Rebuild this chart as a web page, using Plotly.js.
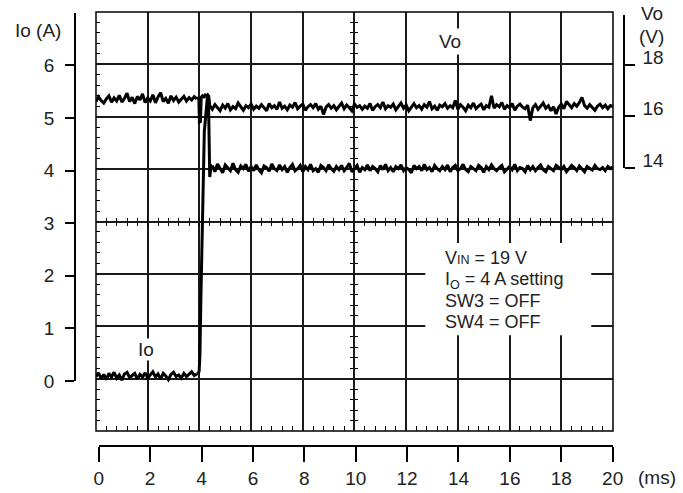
<!DOCTYPE html>
<html>
<head>
<meta charset="utf-8">
<script src="https://cdn.plot.ly/plotly-3.0.1.min.js"></script>
<style>html,body{margin:0;padding:0;background:#fff}#chart{width:683px;height:493px}</style>
</head>
<body>
<div id="chart"></div>
<script>
// ---- data ----
// time step of sampled segments, ms
const sampleStep = 0.1;

// Io (A): before the load step, sampled from t = 0 ms
const ioPre = [
  0.04, 0.11, 0.00, 0.08, -0.02, 0.10, 0.03, 0.12, 0.01, 0.07,
  -0.03, 0.09, 0.12, 0.02, 0.06, 0.10, -0.01, 0.08, 0.03, 0.11,
  0.01, 0.07, 0.13, 0.03, 0.09, -0.01, 0.10, 0.05, -0.02, 0.08,
  0.12, 0.04, 0.07, 0.01, 0.10, 0.04, 0.09, 0.13, 0.06, 0.09
];
// Io (A): step transient
const ioStepT = [3.9, 3.95, 3.99, 4.02, 4.06, 4.12, 4.19, 4.31, 4.35, 4.40, 4.45, 4.5];
const ioStepV = [0.09, 0.10, 0.14, 0.45, 1.6, 3.4, 4.71, 5.38, 5.36, 3.85, 4.06, 4.07];
// Io (A): after the step, sampled from t = 4.5 ms to 20 ms
const ioPost = [
  4.07, 3.95, 4.10, 4.01, 3.93, 4.08, 4.03, 3.97, 4.11, 3.99,
  3.94, 4.06, 4.01, 4.09, 3.96, 4.05, 3.97, 4.08, 3.99, 3.93,
  4.06, 4.03, 3.96, 4.10, 4.01, 3.97, 4.08, 3.99, 4.05, 3.94,
  4.03, 4.09, 3.97, 4.01, 4.07, 3.95, 4.05, 3.99, 4.09, 3.97,
  4.01, 3.94, 4.07, 4.03, 3.97, 4.08, 4.01, 3.96, 4.05, 3.99,
  4.07, 3.97, 4.03, 4.11, 3.95, 4.01, 4.07, 3.94, 4.03, 3.99,
  4.08, 3.97, 4.05, 4.01, 3.95, 4.07, 3.99, 4.09, 3.97, 4.03,
  3.95, 4.05, 4.01, 4.08, 3.97, 4.03, 3.99, 3.93, 4.07, 4.01,
  4.05, 3.97, 4.09, 3.99, 4.03, 3.95, 4.07, 4.01, 3.97, 4.05,
  3.99, 4.08, 3.95, 4.03, 4.07, 3.97, 4.01, 4.09, 3.99, 3.95,
  4.05, 4.01, 3.97, 4.07, 4.03, 3.94, 4.05, 3.99, 4.08, 4.01,
  3.97, 4.03, 4.07, 3.95, 4.01, 4.05, 3.99, 4.09, 3.97, 4.03,
  4.01, 3.95, 4.07, 3.99, 4.05, 3.97, 4.03, 4.08, 3.99, 3.95,
  4.05, 4.01, 3.97, 4.07, 4.03, 3.99, 4.05, 3.95, 4.01, 4.07,
  4.03, 3.97, 4.06, 4.00, 3.95, 4.05, 4.02, 3.98, 4.07, 4.01,
  3.99, 4.03, 3.97, 4.05, 4.01, 4.04
];

// Vo (V): before the load step, sampled from t = 0 ms
const voPre = [
  16.58, 16.76, 16.62, 16.52, 16.68, 16.80, 16.55, 16.72, 16.60, 16.82,
  16.56, 16.70, 16.90, 16.58, 16.74, 16.50, 16.78, 16.64, 16.88, 16.54,
  16.72, 16.60, 16.84, 16.53, 16.76, 16.92, 16.58, 16.70, 16.51, 16.80,
  16.62, 16.75, 16.56, 16.68, 16.78, 16.60, 16.73, 16.64, 16.77, 16.68
];
// Vo (V): step transient
const voStepT = [3.9, 3.95, 3.98, 4.0, 4.04, 4.07, 4.12, 4.17, 4.22, 4.27, 4.32, 4.36, 4.4];
const voStepV = [16.68, 16.71, 16.68, 15.78, 15.80, 16.74, 16.80, 16.76, 16.83, 16.78, 16.84, 16.79, 16.42];
// Vo (V): after the step, sampled from t = 4.4 ms to 20 ms
const voPost = [
  16.42, 16.28, 16.46, 16.34, 16.22, 16.44, 16.32, 16.50, 16.26, 16.38,
  16.30, 16.52, 16.36, 16.24, 16.42, 16.34, 16.48, 16.28, 16.40, 16.32,
  16.46, 16.36, 16.22, 16.50, 16.34, 16.42, 16.28, 16.56, 16.32, 16.40,
  16.26, 16.44, 16.36, 16.54, 16.30, 16.40, 16.48, 16.24, 16.38, 16.46,
  16.34, 16.50, 16.28, 16.40, 16.08, 16.36, 16.46, 16.32, 16.42, 16.26,
  16.38, 16.52, 16.30, 16.44, 16.34, 16.22, 16.48, 16.36, 16.42, 16.28,
  16.40, 16.32, 16.50, 16.24, 16.38, 16.46, 16.34, 16.56, 16.30, 16.42,
  16.36, 16.48, 16.26, 16.40, 16.52, 16.32, 16.44, 16.22, 16.38, 16.50,
  16.34, 16.42, 16.28, 16.46, 16.36, 16.58, 16.30, 16.40, 16.24, 16.44,
  16.38, 16.50, 16.32, 16.42, 16.34, 16.62, 16.28, 16.46, 16.36, 16.22,
  16.44, 16.34, 16.52, 16.30, 16.40, 16.48, 16.26, 16.42, 16.36, 16.80,
  16.32, 16.46, 16.38, 16.54, 16.28, 16.42, 16.34, 16.50, 16.24, 16.40,
  16.48, 16.36, 16.30, 16.44, 15.84, 16.34, 16.46, 16.28, 16.40, 16.52,
  16.32, 16.42, 16.22, 16.38, 16.10, 16.36, 16.48, 16.30, 16.58, 16.44,
  16.34, 16.50, 16.40, 16.54, 16.74, 16.42, 16.32, 16.46, 16.36, 16.24,
  16.40, 16.48, 16.34, 16.44, 16.30, 16.42, 16.38
];

// axis tick labels
const timeTicks = [0, 2, 4, 6, 8, 10, 12, 14, 16, 18, 20];
const ioTicks = [0, 1, 2, 3, 4, 5, 6];
const voTicks = [14, 16, 18];

// condition text
const condLines = [
  'V<span style="font-size:12.5px">IN</span> = 19 V',
  'I<sub>O</sub> = 4 A setting',
  'SW3 = OFF',
  'SW4 = OFF'
];

// ---- styling ----
const FONT = 'Liberation Sans, Arial, Helvetica, sans-serif';
const TXT = '#222';
const fs = 19;
const trLine = {color: '#000', width: 3};
const GRID = '#1a1a1a';
const X_DOM = [0.03825, 0.97996];
const Y_DOM = [0.03456, 1];
const X_MID = 0.5091;   // paper fraction of the 10 ms centre line
const Y_MID = 0.51728;  // paper fraction of the 3 A centre line

const carrier = (xa, ya) => ({type: 'scatter', mode: 'lines', x: [], y: [], xaxis: xa, yaxis: ya, hoverinfo: 'skip'});

const traces = [
  {type: 'scatter', mode: 'lines', y: ioPre, x0: 0, dx: sampleStep, line: trLine, xaxis: 'x', yaxis: 'y', hoverinfo: 'skip'},
  {type: 'scatter', mode: 'lines', x: ioStepT, y: ioStepV, line: trLine, xaxis: 'x', yaxis: 'y', hoverinfo: 'skip'},
  {type: 'scatter', mode: 'lines', y: ioPost, x0: 4.5, dx: sampleStep, line: trLine, xaxis: 'x', yaxis: 'y', hoverinfo: 'skip'},
  {type: 'scatter', mode: 'lines', y: voPre, x0: 0, dx: sampleStep, line: trLine, xaxis: 'x', yaxis: 'y2', hoverinfo: 'skip'},
  {type: 'scatter', mode: 'lines', x: voStepT, y: voStepV, line: trLine, xaxis: 'x', yaxis: 'y2', hoverinfo: 'skip'},
  {type: 'scatter', mode: 'lines', y: voPost, x0: 4.4, dx: sampleStep, line: trLine, xaxis: 'x', yaxis: 'y2', hoverinfo: 'skip'},
  // carriers for the decorative scales / graduations
  carrier('x2', 'y3'),
  carrier('x4', 'y6'),
  carrier('x5', 'y7'),
  carrier('x6', 'y4'),
  carrier('x7', 'y5')
];

const hidden = {visible: false, range: [0, 1], showgrid: false, zeroline: false};
const plain = {showgrid: false, zeroline: false, showticklabels: false, showline: false, ticks: ''};
const centreMinor = (dt) => ({ticks: 'outside', dtick: dt, tick0: 0, ticklen: 3, tickwidth: 1, tickcolor: '#000', showgrid: false});
const tickFont = {family: FONT, size: fs, color: TXT};

const layout = {
  width: 683, height: 493,
  margin: {l: 75, r: 59, t: 12, b: 47, pad: 0},
  paper_bgcolor: '#fff', plot_bgcolor: 'rgba(0,0,0,0)',
  showlegend: false,
  font: {family: FONT, size: fs, color: TXT},
  xaxis: {
    domain: X_DOM, range: [0, 20], anchor: 'y',
    showgrid: true, gridcolor: GRID, gridwidth: 1.5, dtick: 2, tick0: 0,
    showline: false, mirror: false,
    zeroline: false, showticklabels: false, ticks: '',
    minor: {ticks: 'inside', dtick: 0.4, tick0: 0, ticklen: 5, tickwidth: 1, tickcolor: '#000', showgrid: false}
  },
  yaxis: {
    domain: Y_DOM, range: [-1, 7], anchor: 'x',
    showgrid: true, gridcolor: GRID, gridwidth: 1.5, dtick: 1, tick0: 0,
    showline: false, mirror: false,
    zeroline: false, showticklabels: false, ticks: '',
    minor: {ticks: 'inside', dtick: 0.2, tick0: 0, ticklen: 4, tickwidth: 1, tickcolor: '#000', showgrid: false}
  },
  // Vo scale (right)
  yaxis2: {
    domain: [0.6406, 0.9931], range: [14, 19.94], anchor: 'free', position: 1, side: 'right',
    showgrid: false, zeroline: false, showline: true, linecolor: '#000', linewidth: 1.5,
    ticks: 'outside', ticklen: 10, tickwidth: 1.5, tickcolor: '#000',
    tickvals: voTicks, ticktext: voTicks.map(String), ticklabelshift: -8, ticklabelstandoff: 4,
    tickfont: tickFont
  },
  // Io scale (left)
  yaxis3: {
    domain: [0.1498, 0.998], range: [0, 7], anchor: 'free', position: 0, side: 'left',
    showgrid: false, zeroline: false, showline: true, linecolor: '#000', linewidth: 1.5,
    ticks: 'outside', ticklen: 9, tickwidth: 1.5, tickcolor: '#000',
    tickvals: ioTicks, ticktext: ioTicks.map(String), ticklabelstandoff: 7,
    tickfont: tickFont
  },
  // time scale (bottom)
  xaxis2: {
    domain: [0.0432, 0.9794], range: [0, 20], anchor: 'free', position: 0,
    showgrid: false, zeroline: false, showline: true, linecolor: '#000', linewidth: 1.5,
    ticks: 'outside', ticklen: 15, tickwidth: 1.5, tickcolor: '#000',
    tickvals: timeTicks, ticktext: timeTicks.map(String),
    tickfont: tickFont
  },
  // centre-line graduations (anchored to hidden helper axes so they sit on the centre lines)
  xaxis4: Object.assign({}, plain, {domain: X_DOM, range: [0, 20], anchor: 'y6', side: 'bottom', minor: centreMinor(0.4)}),
  yaxis6: Object.assign({}, hidden, {domain: [Y_MID, 1], anchor: 'x4'}),
  xaxis5: Object.assign({}, plain, {domain: X_DOM, range: [0, 20], anchor: 'y7', side: 'top', minor: centreMinor(0.4)}),
  yaxis7: Object.assign({}, hidden, {domain: [0, Y_MID], anchor: 'x5'}),
  yaxis4: Object.assign({}, plain, {domain: Y_DOM, range: [-1, 7], anchor: 'x6', side: 'left', minor: centreMinor(0.2)}),
  xaxis6: Object.assign({}, hidden, {domain: [X_MID, 1], anchor: 'y4'}),
  yaxis5: Object.assign({}, plain, {domain: Y_DOM, range: [-1, 7], anchor: 'x7', side: 'right', minor: centreMinor(0.2)}),
  xaxis7: Object.assign({}, hidden, {domain: [0, X_MID], anchor: 'y5'}),
  shapes: [
    // white panel behind the condition text
    {type: 'rect', xref: 'x', yref: 'y', x0: 12.74, x1: 19.16, y0: 0.83, y1: 2.59,
     fillcolor: '#fff', line: {width: 0}, layer: 'above'},
    // graticule frame
    {type: 'rect', xref: 'x domain', yref: 'y domain', x0: 0, x1: 1, y0: 0, y1: 1,
     line: {color: '#000', width: 1.5}, layer: 'above'}
  ],
  annotations: [
    {xref: 'paper', yref: 'paper', x: -0.067, y: 0.9585, text: 'Io (A)', showarrow: false,
     xanchor: 'center', yanchor: 'middle', font: tickFont},
    {xref: 'paper', yref: 'paper', x: 1.051, y: 0.9975, text: 'Vo', showarrow: false,
     xanchor: 'center', yanchor: 'middle', font: tickFont},
    {xref: 'paper', yref: 'paper', x: 1.051, y: 0.9435, text: '(V)', showarrow: false,
     xanchor: 'center', yanchor: 'middle', font: tickFont},
    {xref: 'paper', yref: 'paper', x: 1.0595, y: -0.0737, text: '(ms)', showarrow: false,
     xanchor: 'center', yanchor: 'middle', font: tickFont},
    {xref: 'x', yref: 'y', x: 13.71, y: 6.446, text: 'Vo', showarrow: false,
     xanchor: 'center', yanchor: 'middle', bgcolor: '#fff', borderpad: 2, font: tickFont},
    {xref: 'x', yref: 'y', x: 1.95, y: 0.565, text: 'Io', showarrow: false,
     xanchor: 'center', yanchor: 'middle', bgcolor: '#fff', borderpad: 0, font: tickFont},
    {xref: 'x', yref: 'y', x: 13.43, y: 2.297, text: condLines[0], showarrow: false,
     xanchor: 'left', yanchor: 'middle', align: 'left', font: {family: FONT, size: 18, color: TXT}},
    {xref: 'x', yref: 'y', x: 13.43, y: 1.87, text: condLines[1], showarrow: false,
     xanchor: 'left', yanchor: 'middle', align: 'left', font: {family: FONT, size: 18, color: TXT}},
    {xref: 'x', yref: 'y', x: 13.43, y: 1.482, text: condLines[2], showarrow: false,
     xanchor: 'left', yanchor: 'middle', align: 'left', font: {family: FONT, size: 18, color: TXT}},
    {xref: 'x', yref: 'y', x: 13.43, y: 1.086, text: condLines[3], showarrow: false,
     xanchor: 'left', yanchor: 'middle', align: 'left', font: {family: FONT, size: 18, color: TXT}}
  ]
};

Plotly.newPlot('chart', traces, layout, {displayModeBar: false});
</script>
</body>
</html>
